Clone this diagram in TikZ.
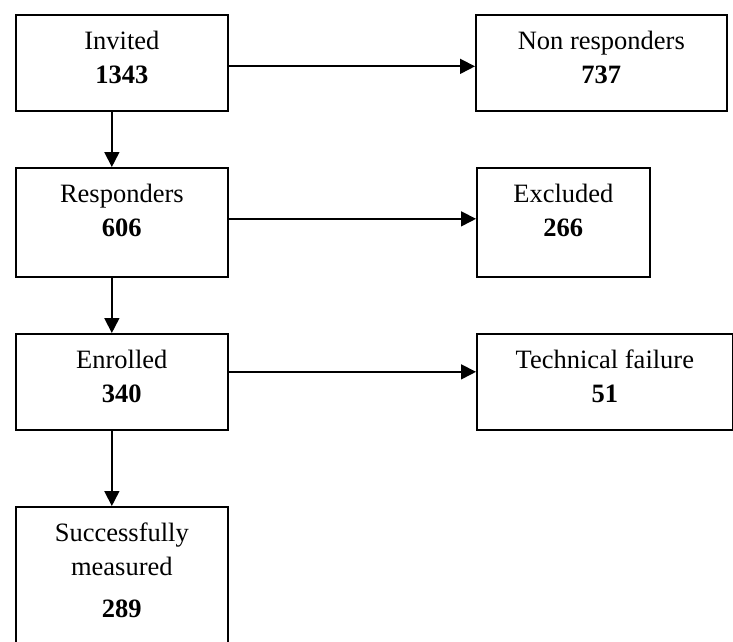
\documentclass[tikz,border=0pt]{standalone}
\usepackage{fontspec}
\setmainfont{Liberation Serif}
\usepackage{tikz}
\usetikzlibrary{arrows.meta}
\tikzset{
    box/.style = {draw=black, line width=1.7pt, rectangle, align=center, inner sep=0pt, anchor=north west,
                  font=\fontsize{26.5pt}{34pt}\selectfont, text height=69pt},
    flow/.style = {-{Triangle[length=15pt, width=15pt]}, line width=1.7pt}
}

\begin{document}
\begin{tikzpicture}[x=1pt, y=-1pt]
    \useasboundingbox (0,0) rectangle (733,642);

    % main column
    \node (inv)  [box, minimum width=212pt, text depth=27pt] at (15,14)  {Invited\\\textbf{1343}};
    \node (resp) [box, minimum width=212pt, text depth=40pt] at (15,167) {Responders\\\textbf{606}};
    \node (enr)  [box, minimum width=212pt, text depth=27pt] at (15,333) {Enrolled\\\textbf{340}};
    \node (succ) [box, minimum width=212pt, text height=111pt, text depth=40pt] at (15,506) {Successfully\\measured\\[8pt]\textbf{289}};

    % drop-outs
    \node (nonr) [box, minimum width=251pt, text depth=27pt] at (475,14)  {Non responders\\\textbf{737}};
    \node (excl) [box, minimum width=173pt, text depth=40pt] at (476,167) {Excluded\\\textbf{266}};
    \node (tech) [box, minimum width=256pt, text depth=27pt] at (476,333) {Technical failure\\\textbf{51}};

    \draw[flow] ([xshift=-10pt]inv.south) -- ([xshift=-10pt]resp.north);
    \draw[flow] ([xshift=-10pt]resp.south) -- ([xshift=-10pt]enr.north);
    \draw[flow] ([xshift=-10pt]enr.south) -- ([xshift=-10pt]succ.north);

    \draw[flow] ([yshift=-3.5pt]inv.east) -- ([yshift=-3.5pt]inv.east -| nonr.west);
    \draw[flow] ([yshift=3.5pt]resp.east) -- ([yshift=3.5pt]resp.east -| excl.west);
    \draw[flow] ([yshift=10pt]enr.east) -- ([yshift=10pt]enr.east -| tech.west);
\end{tikzpicture}
\end{document}
